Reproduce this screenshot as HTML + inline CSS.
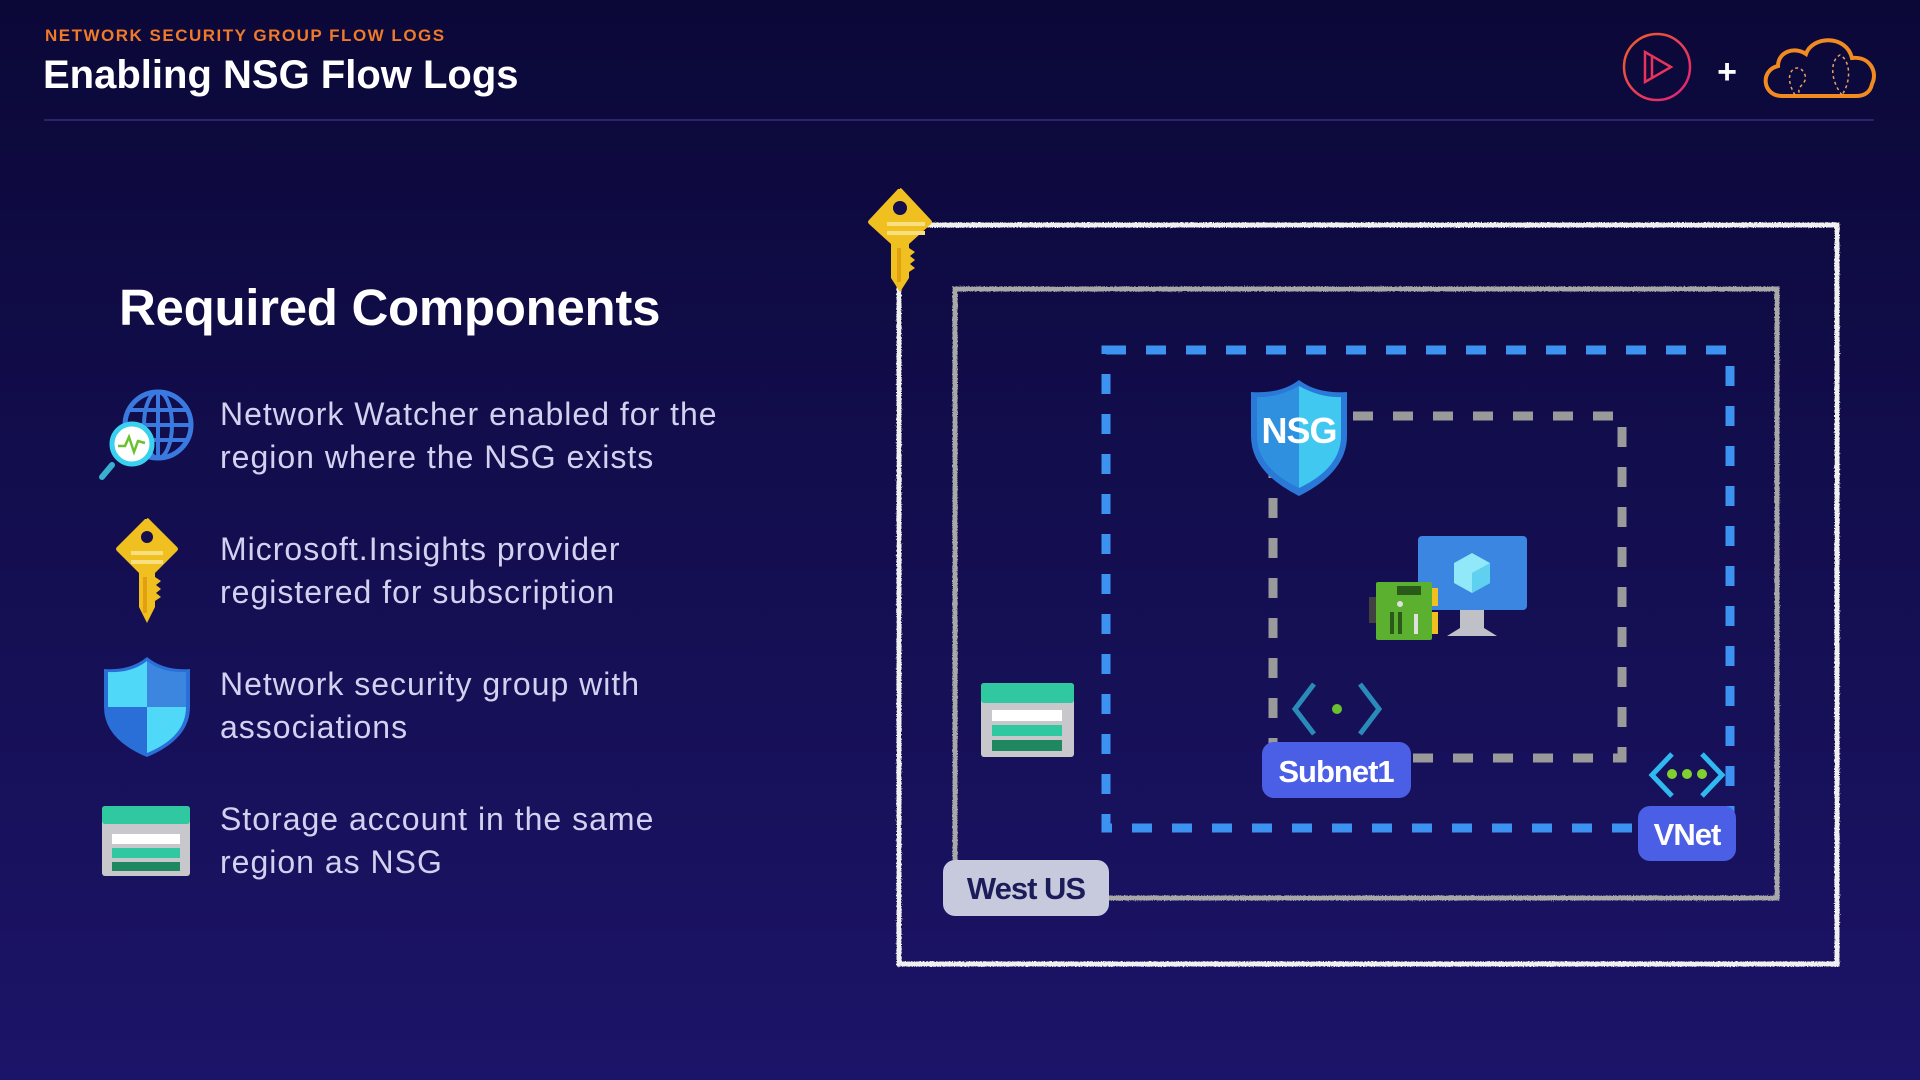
<!DOCTYPE html>
<html><head><meta charset="utf-8"><style>
html,body{margin:0;padding:0;width:1920px;height:1080px;overflow:hidden;background:#120c4a;}
svg{display:block}
text{font-family:"Liberation Sans",sans-serif}
</style></head><body>
<svg width="1920" height="1080" viewBox="0 0 1920 1080" xmlns="http://www.w3.org/2000/svg">
<defs>
<linearGradient id="bg" x1="0" y1="0" x2="0" y2="1">
<stop offset="0" stop-color="#0b0838"/><stop offset="1" stop-color="#1c1468"/></linearGradient>
<linearGradient id="pl" x1="0" y1="0" x2="1" y2="1"><stop offset="0" stop-color="#f0602a"/><stop offset="1" stop-color="#e0207a"/></linearGradient>
<filter id="chalk"><feTurbulence type="fractalNoise" baseFrequency="0.9" numOctaves="2" result="n"/><feDisplacementMap in="SourceGraphic" in2="n" scale="3"/></filter>
</defs>
<rect width="1920" height="1080" fill="url(#bg)"/>

<!-- header -->
<text x="45" y="41" font-size="17" font-weight="bold" fill="#f07a28" letter-spacing="1.5">NETWORK SECURITY GROUP FLOW LOGS</text>
<text x="43" y="88" font-size="40" font-weight="bold" fill="#ffffff">Enabling NSG Flow Logs</text>
<rect x="44" y="119" width="1830" height="2" fill="#2a2566"/>
<!-- logos -->
<circle cx="1657" cy="67" r="33" fill="none" stroke="url(#pl)" stroke-width="2.5"/>
<path d="M1645,52 L1645,82 L1671,67 Z M1652,55 L1652,79" fill="none" stroke="#e8345a" stroke-width="2.5"/>
<text x="1727" y="83" font-size="34" font-weight="bold" fill="#fff" text-anchor="middle">+</text>
<path d="M1782,96 C1762,96 1760,70 1778,66 C1778,52 1794,46 1806,54 C1812,36 1846,34 1852,58 C1870,56 1878,72 1872,84 C1870,94 1862,96 1856,96 Z" fill="none" stroke="#f28a22" stroke-width="4"/>
<path d="M1795,95 C1780,70 1800,60 1805,75 C1808,85 1795,85 1800,95 M1842,95 C1830,80 1830,60 1840,55 C1850,60 1852,80 1842,95" fill="none" stroke="#e8a060" stroke-width="1.5" stroke-dasharray="3,3"/>

<!-- left content -->
<text x="119" y="325" font-size="51" font-weight="bold" fill="#ffffff" letter-spacing="-0.3">Required Components</text>
<g font-size="32" fill="#d2d2f0" letter-spacing="1">
<text x="220" y="425">Network Watcher enabled for the</text>
<text x="220" y="468">region where the NSG exists</text>
<text x="220" y="560">Microsoft.Insights provider</text>
<text x="220" y="603">registered for subscription</text>
<text x="220" y="695">Network security group with</text>
<text x="220" y="738">associations</text>
<text x="220" y="830">Storage account in the same</text>
<text x="220" y="873">region as NSG</text>
</g>

<!-- globe icon -->
<g>
<circle cx="158" cy="425" r="33" fill="none" stroke="#3a7ae0" stroke-width="5"/>
<ellipse cx="158" cy="425" rx="14" ry="33" fill="none" stroke="#3a7ae0" stroke-width="4"/>
<line x1="125" y1="425" x2="191" y2="425" stroke="#3a7ae0" stroke-width="4"/>
<line x1="130" y1="410" x2="186" y2="410" stroke="#3a7ae0" stroke-width="4"/>
<line x1="130" y1="440" x2="186" y2="440" stroke="#3a7ae0" stroke-width="4"/>
<line x1="158" y1="392" x2="158" y2="458" stroke="#3a7ae0" stroke-width="4"/>
<line x1="112" y1="465" x2="102" y2="477" stroke="#3ab0d0" stroke-width="6" stroke-linecap="round"/>
<circle cx="132" cy="444" r="20" fill="#ffffff" stroke="#3ad0f0" stroke-width="5"/>
<path d="M118,446 L125,446 L129,437 L134,452 L138,441 L145,443" fill="none" stroke="#6ac030" stroke-width="2.5"/>
</g>
<!-- key icon -->
<g transform="translate(113,515)">
<path d="M34,4 Q34,2 36,4 L64,32 Q66,34 64,36 L42,58 L42,92 L34,108 L26,92 L26,58 L4,36 Q2,34 4,32 L32,4 Z" fill="#f0c020"/>
<path d="M42,62 l6,4 l-5,4 l5,4 l-5,4 l5,4 l-6,4 Z" fill="#f0c020"/>
<circle cx="34" cy="22" r="6" fill="#140d4e"/>
<rect x="18" y="36" width="32" height="4" fill="#f8e080"/><rect x="18" y="45" width="32" height="4" fill="#f8e080"/>
<rect x="30" y="62" width="4" height="36" fill="#e0a010"/>
</g>
<!-- shield icon -->
<g transform="translate(104,655)">
<path d="M43,2 Q60,16 86,14 L86,52 Q86,84 43,102 Q0,84 0,52 L0,14 Q26,16 43,2 Z" fill="#2a6ed8"/>
<path d="M43,6 Q28,18 4,17 L4,52 L43,52 Z" fill="#50d8f8"/>
<path d="M43,52 L82,52 Q82,82 43,98 Z" fill="#50d8f8"/>
<path d="M43,6 Q58,18 82,17 L82,52 L43,52 Z" fill="#3c86e0"/>
</g>
<!-- storage icon -->
<g transform="translate(102,806)">
<rect width="88" height="70" rx="3" fill="#c8c8cc"/>
<rect width="88" height="18" rx="3" fill="#30c8a0"/>
<rect x="10" y="28" width="68" height="10" fill="#ffffff"/>
<rect x="10" y="42" width="68" height="10" fill="#30c8a0"/>
<rect x="10" y="56" width="68" height="9" fill="#208860"/>
</g>

<!-- diagram boxes -->
<rect x="899" y="225" width="938" height="739" fill="none" stroke="#f0f0f0" stroke-width="5" filter="url(#chalk)"/>
<rect x="955" y="289" width="822" height="609" fill="none" stroke="#a8a8a8" stroke-width="5" filter="url(#chalk)"/>
<rect x="1106" y="350" width="624" height="478" fill="none" stroke="#3b92f0" stroke-width="9" stroke-dasharray="20,20"/>
<rect x="1273" y="416" width="349" height="342" fill="none" stroke="#9a9a9a" stroke-width="9" stroke-dasharray="20,20"/>

<!-- top key -->
<g transform="translate(867,186)">
<path d="M33,3 Q33,1 35,3 L64,34 Q66,36 64,38 L42,58 L42,92 L33,106 L24,92 L24,58 L2,38 Q0,36 2,34 L31,3 Z" fill="#f0c020"/>
<path d="M42,62 l6,4 l-5,4 l5,4 l-5,4 l5,4 l-6,4 Z" fill="#f0c020"/>
<circle cx="33" cy="22" r="7" fill="#140d4e"/>
<rect x="20" y="36" width="38" height="4" fill="#f8e080"/><rect x="20" y="45" width="38" height="4" fill="#f8e080"/>
<rect x="30" y="62" width="4" height="34" fill="#e0a010"/>
</g>

<!-- NSG shield -->
<g transform="translate(1251,380)">
<path d="M48,0 Q66,14 96,12 L96,56 Q96,92 48,116 Q0,92 0,56 L0,12 Q30,14 48,0 Z" fill="#2a78d8"/>
<path d="M48,6 Q70,18 90,17 L90,56 Q90,88 48,108 Z" fill="#40c8f0"/>
<path d="M48,6 Q26,18 6,17 L6,56 Q6,88 48,108 Z" fill="#3090e0"/>
<text x="48" y="63" font-size="36" font-weight="bold" fill="#ffffff" text-anchor="middle" letter-spacing="-1">NSG</text>
</g>

<!-- VM -->
<rect x="1418" y="536" width="109" height="74" rx="4" fill="#3a86e0"/>
<path d="M1472,553 L1490,563 L1490,583 L1472,593 L1454,583 L1454,563 Z" fill="#90e8f8"/>
<path d="M1472,573 L1490,563 L1490,583 L1472,593 Z" fill="#60d0f0"/>
<path d="M1460,610 L1484,610 L1484,628 L1497,636 L1447,636 L1460,628 Z" fill="#c0c0c8"/>
<!-- NIC -->
<rect x="1369" y="597" width="8" height="26" fill="#404040"/>
<rect x="1376" y="582" width="56" height="58" rx="2" fill="#5cb030"/>
<rect x="1432" y="588" width="6" height="18" fill="#f0c020"/><rect x="1432" y="612" width="6" height="22" fill="#f0c020"/>
<rect x="1397" y="586" width="24" height="9" fill="#2a5a1a"/>
<rect x="1390" y="612" width="4" height="22" fill="#2a5a1a"/><rect x="1398" y="612" width="4" height="22" fill="#2a5a1a"/>
<circle cx="1400" cy="604" r="3" fill="#e0e0e0"/>
<rect x="1414" y="614" width="4" height="20" fill="#e0e0e0"/>

<!-- subnet icon -->
<path d="M1314,684 L1295,709 L1314,734" fill="none" stroke="#2a8ab8" stroke-width="5"/>
<path d="M1360,684 L1379,709 L1360,734" fill="none" stroke="#2a8ab8" stroke-width="5"/>
<circle cx="1337" cy="709" r="5" fill="#6ac030"/>
<rect x="1262" y="742" width="149" height="56" rx="12" fill="#4a5ee6"/>
<text x="1336" y="782" font-size="31" font-weight="bold" fill="#ffffff" text-anchor="middle" letter-spacing="-1">Subnet1</text>

<!-- vnet icon -->
<path d="M1672,754 L1652,775 L1672,796" fill="none" stroke="#30b8f0" stroke-width="5"/>
<path d="M1702,754 L1722,775 L1702,796" fill="none" stroke="#30b8f0" stroke-width="5"/>
<circle cx="1672" cy="774" r="5" fill="#80d030"/><circle cx="1687" cy="774" r="5" fill="#80d030"/><circle cx="1702" cy="774" r="5" fill="#80d030"/>
<rect x="1638" y="806" width="98" height="55" rx="12" fill="#4a5ee6"/>
<text x="1687" y="845" font-size="31" font-weight="bold" fill="#ffffff" text-anchor="middle" letter-spacing="-1">VNet</text>

<!-- storage in diagram -->
<g transform="translate(981,683)">
<rect width="93" height="74" rx="3" fill="#c8c8cc"/>
<rect width="93" height="20" rx="3" fill="#30c8a0"/>
<rect x="11" y="27" width="70" height="11" fill="#ffffff"/>
<rect x="11" y="42" width="70" height="11" fill="#30c8a0"/>
<rect x="11" y="57" width="70" height="11" fill="#208860"/>
</g>

<!-- West US -->
<rect x="943" y="860" width="166" height="56" rx="12" fill="#c6cadc"/>
<text x="1026" y="899" font-size="31" font-weight="bold" fill="#1c1c5a" text-anchor="middle" letter-spacing="-1">West US</text>
</svg>
</body></html>
